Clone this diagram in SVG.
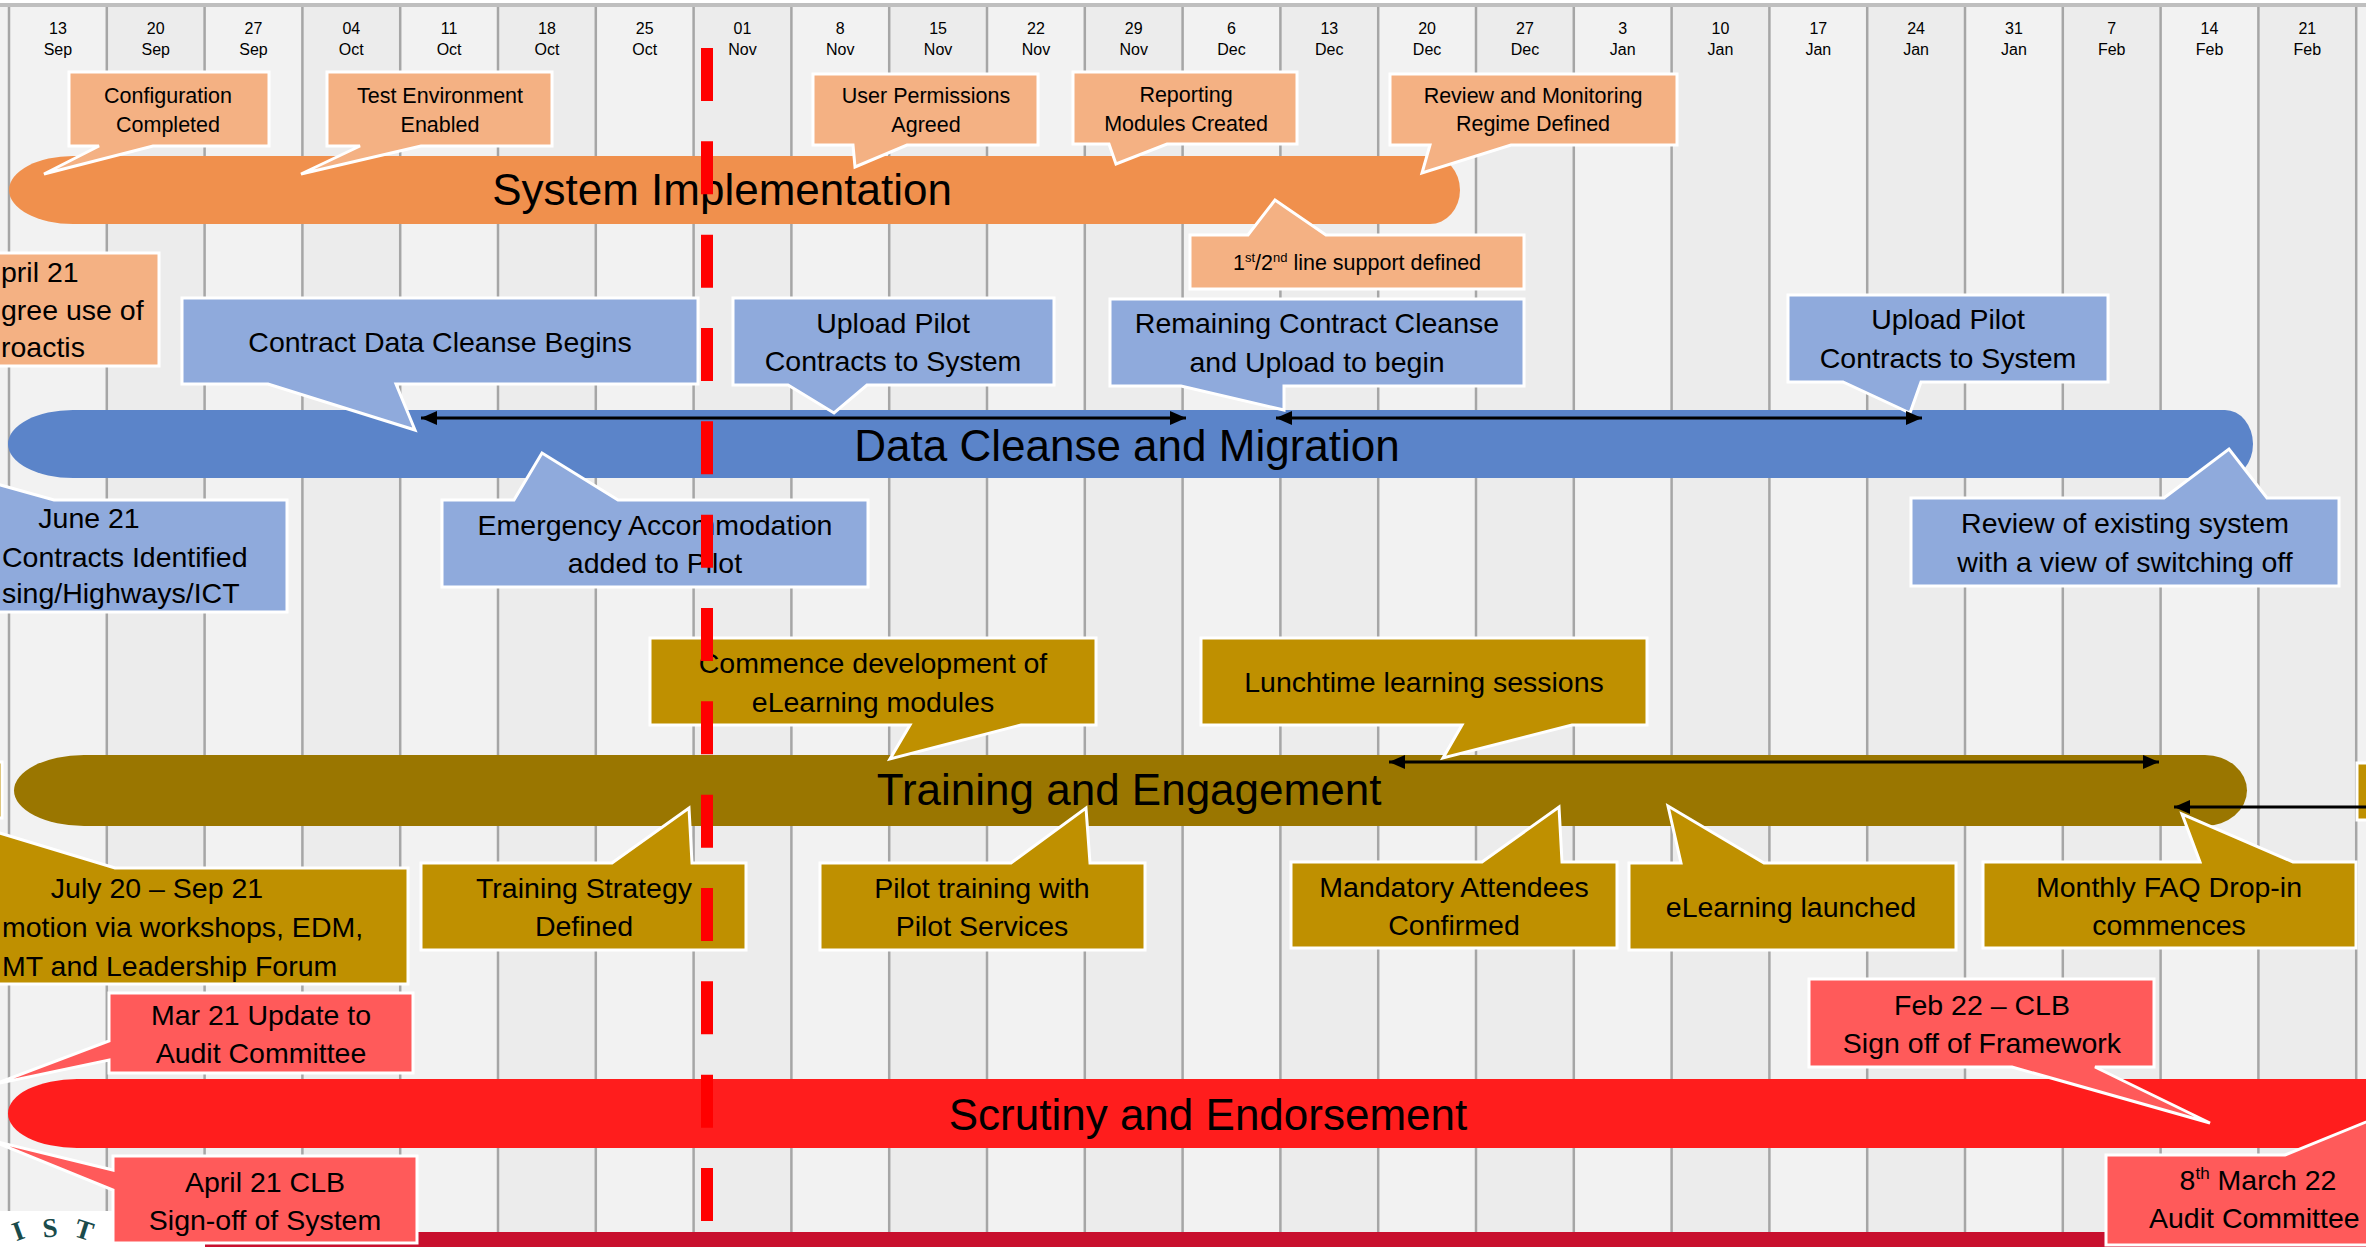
<svg xmlns="http://www.w3.org/2000/svg" width="2366" height="1247" viewBox="0 0 2366 1247">
<style>
.t{font-family:"Liberation Sans",Arial,sans-serif;fill:#000;text-anchor:middle}
.e{text-anchor:end}
.st{text-anchor:start}
.hd{font-size:16px}
.s28{font-size:28.5px}
.s21{font-size:21.5px}
.s44{font-size:44px}
.co{fill:#f4b183;stroke:#fff;stroke-width:3}
.cb{fill:#8faadc;stroke:#fff;stroke-width:3}
.cg{fill:#bf9000;stroke:#fff;stroke-width:3}
.cr{fill:#ff5a5a;stroke:#fff;stroke-width:3}
.grid{stroke:#a6a6a6;stroke-width:2.5}
.arr{stroke:#000;stroke-width:3;fill:none}
.logo{font-family:"Liberation Serif",serif;font-size:27px;font-weight:bold;fill:#1a4b4b;text-anchor:middle}
</style>
<defs>
<marker id="ah" viewBox="0 0 16 14" markerWidth="16" markerHeight="14" refX="16" refY="7" orient="auto-start-reverse" markerUnits="userSpaceOnUse">
<path d="M0,0 L16,7 L0,14 Z" fill="#000"/>
</marker>
</defs>

<g id="background">
<rect x="0" y="0" width="2366" height="1247" fill="#f2f2f2"/>
<rect x="0" y="0" width="2366" height="3" fill="#ffffff"/>
<g fill="#ececec">
<rect x="106.8" y="7" width="97.8" height="1240"/>
<rect x="302.4" y="7" width="97.8" height="1240"/>
<rect x="498" y="7" width="97.8" height="1240"/>
<rect x="693.6" y="7" width="97.8" height="1240"/>
<rect x="889.2" y="7" width="97.8" height="1240"/>
<rect x="1084.8" y="7" width="97.8" height="1240"/>
<rect x="1280.4" y="7" width="97.8" height="1240"/>
<rect x="1476" y="7" width="97.8" height="1240"/>
<rect x="1671.6" y="7" width="97.8" height="1240"/>
<rect x="1867.2" y="7" width="97.8" height="1240"/>
<rect x="2062.8" y="7" width="97.8" height="1240"/>
<rect x="2258.4" y="7" width="97.8" height="1240"/>
</g>
<g class="grid">
<line x1="9" y1="5" x2="9" y2="1247"/>
<line x1="106.8" y1="5" x2="106.8" y2="1247"/>
<line x1="204.6" y1="5" x2="204.6" y2="1247"/>
<line x1="302.4" y1="5" x2="302.4" y2="1247"/>
<line x1="400.2" y1="5" x2="400.2" y2="1247"/>
<line x1="498" y1="5" x2="498" y2="1247"/>
<line x1="595.8" y1="5" x2="595.8" y2="1247"/>
<line x1="693.6" y1="5" x2="693.6" y2="1247"/>
<line x1="791.4" y1="5" x2="791.4" y2="1247"/>
<line x1="889.2" y1="5" x2="889.2" y2="1247"/>
<line x1="987" y1="5" x2="987" y2="1247"/>
<line x1="1084.8" y1="5" x2="1084.8" y2="1247"/>
<line x1="1182.6" y1="5" x2="1182.6" y2="1247"/>
<line x1="1280.4" y1="5" x2="1280.4" y2="1247"/>
<line x1="1378.2" y1="5" x2="1378.2" y2="1247"/>
<line x1="1476" y1="5" x2="1476" y2="1247"/>
<line x1="1573.8" y1="5" x2="1573.8" y2="1247"/>
<line x1="1671.6" y1="5" x2="1671.6" y2="1247"/>
<line x1="1769.4" y1="5" x2="1769.4" y2="1247"/>
<line x1="1867.2" y1="5" x2="1867.2" y2="1247"/>
<line x1="1965" y1="5" x2="1965" y2="1247"/>
<line x1="2062.8" y1="5" x2="2062.8" y2="1247"/>
<line x1="2160.6" y1="5" x2="2160.6" y2="1247"/>
<line x1="2258.4" y1="5" x2="2258.4" y2="1247"/>
<line x1="2356.2" y1="5" x2="2356.2" y2="1247"/>
</g>
<rect x="0" y="3" width="2366" height="4" fill="#bfbfbf"/>
</g>

<g id="header">
<g class="t hd">
<text x="57.9" y="34">13</text><text x="57.9" y="55">Sep</text>
<text x="155.7" y="34">20</text><text x="155.7" y="55">Sep</text>
<text x="253.5" y="34">27</text><text x="253.5" y="55">Sep</text>
<text x="351.3" y="34">04</text><text x="351.3" y="55">Oct</text>
<text x="449.1" y="34">11</text><text x="449.1" y="55">Oct</text>
<text x="546.9" y="34">18</text><text x="546.9" y="55">Oct</text>
<text x="644.7" y="34">25</text><text x="644.7" y="55">Oct</text>
<text x="742.5" y="34">01</text><text x="742.5" y="55">Nov</text>
<text x="840.3" y="34">8</text><text x="840.3" y="55">Nov</text>
<text x="938.1" y="34">15</text><text x="938.1" y="55">Nov</text>
<text x="1035.9" y="34">22</text><text x="1035.9" y="55">Nov</text>
<text x="1133.7" y="34">29</text><text x="1133.7" y="55">Nov</text>
<text x="1231.5" y="34">6</text><text x="1231.5" y="55">Dec</text>
<text x="1329.3" y="34">13</text><text x="1329.3" y="55">Dec</text>
<text x="1427.1" y="34">20</text><text x="1427.1" y="55">Dec</text>
<text x="1524.9" y="34">27</text><text x="1524.9" y="55">Dec</text>
<text x="1622.7" y="34">3</text><text x="1622.7" y="55">Jan</text>
<text x="1720.5" y="34">10</text><text x="1720.5" y="55">Jan</text>
<text x="1818.3" y="34">17</text><text x="1818.3" y="55">Jan</text>
<text x="1916.1" y="34">24</text><text x="1916.1" y="55">Jan</text>
<text x="2013.9" y="34">31</text><text x="2013.9" y="55">Jan</text>
<text x="2111.7" y="34">7</text><text x="2111.7" y="55">Feb</text>
<text x="2209.5" y="34">14</text><text x="2209.5" y="55">Feb</text>
<text x="2307.3" y="34">21</text><text x="2307.3" y="55">Feb</text>
</g>
</g>

<g id="bottom-strip">
<rect x="0" y="1211" width="205" height="36" fill="#ffffff"/>
<rect x="205" y="1232" width="2161" height="15" fill="#c8102e"/>
<text class="logo" x="18" y="1240" transform="rotate(-20 18 1231)">I</text>
<text class="logo" x="50" y="1237" transform="rotate(-5 50 1228)">S</text>
<text class="logo" x="84" y="1239" transform="rotate(18 84 1230)">T</text>
</g>

<g id="bar-system-implementation">
<path d="M73,156 H1430 A30 34 0 0 1 1430,224 H73 A64 34 0 0 1 73,156 Z" fill="#f0904d"/>
<text class="t s44" x="722" y="205">System Implementation</text>
</g>
<g id="bar-data-cleanse">
<path d="M73,410 H2225 A28 34 0 0 1 2225,478 H73 A65 34 0 0 1 73,410 Z" fill="#5b84c9"/>
<text class="t s44" x="1127" y="461">Data Cleanse and Migration</text>
</g>
<g id="bar-training">
<path d="M84,755 H2205 A42 35.5 0 0 1 2205,826 H84 A70 35.5 0 0 1 84,755 Z" fill="#9a7600"/>
<text class="t s44" x="1129" y="805">Training and Engagement</text>
</g>
<g id="bar-scrutiny">
<path d="M77,1079 H2366 V1148 H77 A69 34.5 0 0 1 77,1079 Z" fill="#ff1d1d"/>
<text class="t s44" x="1208" y="1130">Scrutiny and Endorsement</text>
</g>

<g id="edge-slivers">
<rect x="-10" y="762" width="12" height="56" class="cg"/>
<rect x="2357" y="763" width="20" height="57" class="cg"/>
</g>

<g id="config-completed">
<path class="co" d="M69,72 H269 V146 H153 L44,174 L99,146 H69 Z"/>
<text class="t s21" x="168" y="103">Configuration</text>
<text class="t s21" x="168" y="132">Completed</text>
</g>
<g id="test-environment">
<path class="co" d="M327,72 H552 V146 H421 L301,174 L360,146 H327 Z"/>
<text class="t s21" x="440" y="103">Test Environment</text>
<text class="t s21" x="440" y="132">Enabled</text>
</g>
<g id="user-permissions">
<path class="co" d="M813,74 H1038 V145 H907 L855,167 L853,145 H813 Z"/>
<text class="t s21" x="926" y="103">User Permissions</text>
<text class="t s21" x="926" y="132">Agreed</text>
</g>
<g id="reporting-modules">
<path class="co" d="M1073,72 H1297 V144 H1167 L1116,164 L1109,144 H1073 Z"/>
<text class="t s21" x="1186" y="102">Reporting</text>
<text class="t s21" x="1186" y="131">Modules Created</text>
</g>
<g id="review-monitoring">
<path class="co" d="M1390,74 H1677 V145 H1511 L1422,173 L1430,145 H1390 Z"/>
<text class="t s21" x="1533" y="103">Review and Monitoring</text>
<text class="t s21" x="1533" y="131">Regime Defined</text>
</g>
<g id="line-support">
<path class="co" d="M1190,235 H1248 L1275,200 L1326,235 H1524 V289 H1190 Z"/>
<text class="t s21" x="1357" y="270">1<tspan font-size="13" dy="-8">st</tspan><tspan dy="8">/2</tspan><tspan font-size="13" dy="-8">nd</tspan><tspan dy="8"> line support defined</tspan></text>
</g>
<g id="april-proactis">
<path class="co" d="M-10,253 H159 V366 H-10 Z"/>
<text class="t s28 st" x="1" y="282">pril 21</text>
<text class="t s28 st" x="1" y="320">gree use of</text>
<text class="t s28 st" x="1" y="357">roactis</text>
</g>

<g id="contract-cleanse-begins">
<path class="cb" d="M182,298 H698 V384 H396 L415,430 L268,384 H182 Z"/>
<text class="t s28" x="440" y="352">Contract Data Cleanse Begins</text>
</g>
<g id="upload-pilot-1">
<path class="cb" d="M733,298 H1054 V385 H867 L834,413 L788,385 H733 Z"/>
<text class="t s28" x="893" y="333">Upload Pilot</text>
<text class="t s28" x="893" y="371">Contracts to System</text>
</g>
<g id="remaining-cleanse">
<path class="cb" d="M1110,299 H1524 V386 H1284 L1284,410 L1181,386 H1110 Z"/>
<text class="t s28" x="1317" y="333">Remaining Contract Cleanse</text>
<text class="t s28" x="1317" y="372">and Upload to begin</text>
</g>
<g id="upload-pilot-2">
<path class="cb" d="M1788,295 H2108 V382 H1921 L1910,413 L1843,382 H1788 Z"/>
<text class="t s28" x="1948" y="329">Upload Pilot</text>
<text class="t s28" x="1948" y="368">Contracts to System</text>
</g>
<g id="june-contracts">
<path class="cb" d="M-30,500 L-60,468 L54,500 H287 V612 H-30 Z"/>
<text class="t s28" x="89" y="528">June 21</text>
<text class="t s28 st" x="2" y="567">Contracts Identified</text>
<text class="t s28 st" x="2" y="603">sing/Highways/ICT</text>
</g>
<g id="emergency-accommodation">
<path class="cb" d="M442,500 H514 L542,453 L618,500 H868 V587 H442 Z"/>
<text class="t s28" x="655" y="535">Emergency Accommodation</text>
<text class="t s28" x="655" y="573">added to Pilot</text>
</g>
<g id="review-existing">
<path class="cb" d="M1911,498 H2164 L2229,449 L2267,498 H2339 V586 H1911 Z"/>
<text class="t s28" x="2125" y="533">Review of existing system</text>
<text class="t s28" x="2125" y="572">with a view of switching off</text>
</g>

<g id="elearning-development">
<path class="cg" d="M650,638 H1096 V725 H1021 L890,759 L910,725 H650 Z"/>
<text class="t s28" x="873" y="673">Commence development of</text>
<text class="t s28" x="873" y="712">eLearning modules</text>
</g>
<g id="lunchtime-sessions">
<path class="cg" d="M1201,638 H1647 V725 H1572 L1443,758 L1462,725 H1201 Z"/>
<text class="t s28" x="1424" y="692">Lunchtime learning sessions</text>
</g>
<g id="july-promotion">
<path class="cg" d="M-30,868 L-60,815 L115,868 H408 V984 H-30 Z"/>
<text class="t s28" x="157" y="898">July 20 – Sep 21</text>
<text class="t s28 st" x="2" y="937">motion via workshops, EDM,</text>
<text class="t s28 st" x="2" y="976">MT and Leadership Forum</text>
</g>
<g id="training-strategy">
<path class="cg" d="M421,863 H612 L689,808 L692,863 H746 V950 H421 Z"/>
<text class="t s28" x="584" y="898">Training Strategy</text>
<text class="t s28" x="584" y="936">Defined</text>
</g>
<g id="pilot-training">
<path class="cg" d="M820,863 H1011 L1086,808 L1090,863 H1145 V950 H820 Z"/>
<text class="t s28" x="982" y="898">Pilot training with</text>
<text class="t s28" x="982" y="936">Pilot Services</text>
</g>
<g id="mandatory-attendees">
<path class="cg" d="M1291,862 H1482 L1559,807 L1562,862 H1617 V948 H1291 Z"/>
<text class="t s28" x="1454" y="897">Mandatory Attendees</text>
<text class="t s28" x="1454" y="935">Confirmed</text>
</g>
<g id="elearning-launched">
<path class="cg" d="M1629,863 H1681 L1668,806 L1764,863 H1956 V950 H1629 Z"/>
<text class="t s28" x="1791" y="917">eLearning launched</text>
</g>
<g id="monthly-faq">
<path class="cg" d="M1983,862 H2200 L2182,814 L2293,862 H2356 V948 H1983 Z"/>
<text class="t s28" x="2169" y="897">Monthly FAQ Drop-in</text>
<text class="t s28" x="2169" y="935">commences</text>
</g>

<g id="mar-update">
<path class="cr" d="M109,993 H413 V1073 H109 V1060 L-5,1084 L109,1041 Z"/>
<text class="t s28" x="261" y="1025">Mar 21 Update to</text>
<text class="t s28" x="261" y="1063">Audit Committee</text>
</g>
<g id="april-clb">
<path class="cr" d="M113,1156 H417 V1243 H113 V1190 L-10,1140 L113,1170 Z"/>
<text class="t s28" x="265" y="1192">April 21 CLB</text>
<text class="t s28" x="265" y="1230">Sign-off of System</text>
</g>
<g id="feb-clb">
<path class="cr" d="M1809,979 H2154 V1067 H2095 L2210,1123 L2012,1067 H1809 Z"/>
<text class="t s28" x="1982" y="1015">Feb 22 – CLB</text>
<text class="t s28" x="1982" y="1053">Sign off of Framework</text>
</g>
<g id="march-audit">
<path class="cr" d="M2106,1155 H2285 L2420,1100 L2400,1155 H2390 V1245 H2106 Z"/>
<text class="t s28" x="2258" y="1190">8<tspan font-size="17" dy="-11">th</tspan><tspan dy="11"> March 22</tspan></text>
<text class="t s28 st" x="2149" y="1228">Audit Committee</text>
</g>

<g id="connectors">
<line class="arr" x1="421" y1="418" x2="1186" y2="418" marker-start="url(#ah)" marker-end="url(#ah)"/>
<line class="arr" x1="1276" y1="418" x2="1922" y2="418" marker-start="url(#ah)" marker-end="url(#ah)"/>
<line class="arr" x1="1389" y1="762" x2="2159" y2="762" marker-start="url(#ah)" marker-end="url(#ah)"/>
<line class="arr" x1="2370" y1="807" x2="2174" y2="807" marker-end="url(#ah)"/>
</g>

<g id="today-line">
<line x1="707" y1="48" x2="707" y2="1222" stroke="#ff0000" stroke-width="12" stroke-dasharray="53 40.33"/>
</g>
</svg>
